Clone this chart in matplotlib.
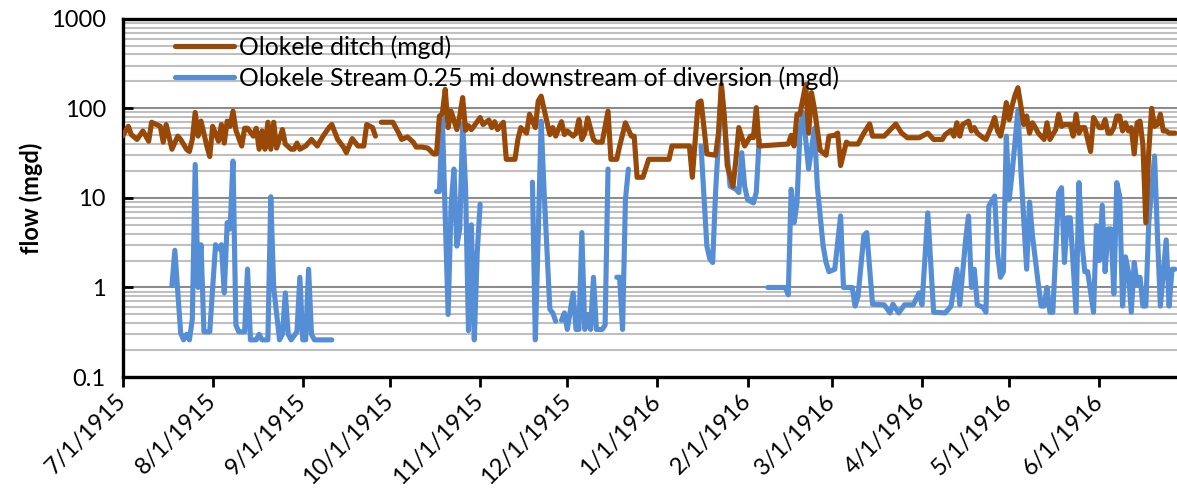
import datetime as dt
import numpy as np
import matplotlib
matplotlib.use("Agg")
import matplotlib.pyplot as plt
import matplotlib.dates as mdates
from matplotlib.ticker import LogLocator, NullFormatter, FixedLocator, FixedFormatter

nan = np.nan
start = dt.date(1915, 7, 1)

# Olokele ditch, days after 7/1/1915 and daily flow in mgd (nan = missing record)
ditch_day = [0, 2, 3, 5, 7, 9, 10, 13, 14, 15, 17, 19, 20, 22, 23, 24, 25, 26, 27, 29,
             30, 31, 33, 34, 35, 36, 37, 38, 39, 41, 42, 43, 45, 46, 47, 48, 49, 50, 51, 52,
             53, 55, 56, 58, 59, 60, 61, 63, 65, 67, 69, 71, 72, 74, 76, 77, 79, 81, 83, 84,
             86, 87, 88,
             89, 93, 95, 96, 98, 100, 101, 103, 105, 107, 108, 109, 110, 111, 112, 113, 115, 116, 117, 118,
             119, 120, 121, 123, 124, 126, 127, 128, 129, 131, 132, 135, 136, 137, 139, 140, 142, 143, 144, 145,
             147, 148, 149, 151, 152, 153, 155, 156, 157, 158, 159, 160, 162, 163, 165, 167, 168, 170, 171, 173,
             175, 176, 177, 179, 181, 188, 189, 195, 196, 198, 199, 201, 204, 205, 206, 207, 208, 210, 211, 212,
             214, 216, 217, 218, 219, 229, 230, 231, 232, 233, 235, 236, 237, 238, 240, 242, 243, 245, 246, 247,
             249, 250, 253, 255, 257, 258, 262, 266, 268, 270, 272, 274, 275, 277, 279, 282, 283, 285, 286, 287,
             288, 289, 291, 292, 293, 294, 296, 297, 299, 300, 301, 302, 303, 304, 305, 306, 307, 308, 309, 310,
             311, 312, 313, 314, 315, 317, 318, 319, 321, 322, 323, 324, 326, 327, 328, 329, 330, 331, 333, 334,
             335, 336, 337, 338, 339, 340, 341, 342, 343, 344, 345, 346, 347, 348, 349, 350, 351, 352, 353, 354,
             355, 356, 357, 358, 359, 360, 362]
ditch_mgd = [49, 63, 51, 45, 56, 43, 70, 63, 42, 66, 35, 49, 45, 35, 33, 45, 90, 49, 72, 38,
             29, 63, 43, 66, 41, 72, 63, 93, 57, 38, 60, 60, 49, 60, 35, 56, 35, 70, 35, 70,
             36, 58, 40, 35, 35, 41, 35, 38, 45, 38, 49, 61, 66, 45, 37, 32, 46, 38, 38, 66,
             61, 49, nan,
             70, 70, 53, 45, 48, 42, 37, 37, 36, 31, 31, 82, 87, 163, 61, 93, 58, 82, 132, 57,
             64, 58, 64, 79, 66, 74, 61, 71, 58, 70, 27, 27, 45, 61, 53, 86, 61, 121, 137, 98,
             51, 61, 49, 71, 51, 56, 49, 53, 75, 45, 53, 78, 45, 42, 42, 93, 27, 27, 38, 69,
             49, 49, 17, 17, 27, 27, 38, 38, 17, 116, 121, 31, 30, 53, 185, 82, 23, 13.5, 27, 61,
             38, 49, 47, 102, 38, 40, 50, 38, 86, 86, 185, 53, 150, 99, 34, 30, 49, 50, 53, 23,
             42, 40, 40, 53, 67, 49, 49, 67, 53, 47, 47, 47, 49, 53, 45, 45, 51, 57, 49, 69,
             49, 66, 72, 56, 61, 53, 47, 45, 64, 79, 56, 49, 69, 116, 75, 107, 140, 170, 107, 66,
             82, 53, 69, 61, 53, 45, 69, 45, 58, 86, 63, 66, 66, 49, 86, 53, 61, 61, 33, 79,
             69, 61, 61, 75, 53, 53, 61, 82, 82, 56, 69, 56, 61, 31, 69, 72, 39, 5.3, 33, 100,
             63, 66, 86, 56, 56, 53, 53]

# Olokele Stream 0.25 mi downstream of diversion
stream_day = [17, 18, 20, 21, 22, 23, 24, 25, 26, 27, 28, 30, 32, 33, 34, 35, 36, 37, 38, 39,
              40, 42, 43, 44, 46, 47, 48, 50, 51, 52, 54, 55, 56, 57, 58, 60, 61, 62, 63, 64,
              65, 66, 72, 73,
              108, 109, 110, 112, 113, 114, 115, 116, 117, 118, 119, 120, 121, 122, 123, 124,
              141, 142, 143, 144, 145, 147, 148, 149, 150,
              151, 152, 153, 155, 156, 157, 158, 159, 160, 161, 162, 163, 165, 166, 167, 168,
              170, 171, 172, 173, 174, 175,
              199, 201, 202, 203, 204, 206, 208, 209, 211, 212, 213, 214, 215, 217, 218, 219, 220,
              222, 228, 229, 230, 231, 232, 233, 234, 235, 236, 238, 239, 241, 242, 243, 245, 247, 248, 251,
              252, 253, 255, 256, 258, 262, 264, 265, 267, 269, 272, 274, 275, 277, 279, 283, 285, 287, 288, 290,
              291, 292, 293, 294, 296, 297, 298, 300, 301, 302, 303, 304, 305, 306, 308, 309, 311, 312, 313, 315,
              316, 317, 318, 319, 320, 322, 323, 324, 325, 326, 328, 329, 330, 331, 332, 334, 335, 336, 337, 338,
              339, 340, 341, 342, 343, 344, 345, 346, 347, 348, 349, 350, 351, 352, 353, 355, 356, 357, 359, 360,
              361, 362]
stream_mgd = [1.05, 2.6, 0.31, 0.26, 0.3, 0.26, 0.44, 23.6, 1.0, 3.0, 0.32, 0.32, 3.0, 2.7, 3.0, 0.87, 5.3, 4.5, 25.8, 0.38,
              0.32, 0.32, 1.6, 0.26, 0.26, 0.3, 0.26, 0.26, 10.3, 1.0, 0.26, 0.3, 0.87, 0.3, 0.26, 0.32, 1.3, 0.26, 0.26, 1.6,
              0.3, 0.26, 0.26, nan,
              11.8, 11.8, 80, 0.5, 8, 21, 2.9, 4.5, 68, 13, 0.33, 5, 0.26, 2.4, 8.5, nan,
              15, 0.26, 4, 72, 12, 0.57, 0.52, 0.42, nan,
              0.43, 0.52, 0.34, 0.87, 0.34, 0.34, 4.1, 0.34, 0.5, 0.34, 1.3, 0.34, 0.34, 0.38, 21, nan,
              1.3, 1.3, 0.34, 9.6, 21, nan,
              38, 2.9, 2.1, 1.9, 11.5, 170, 32, 13.5, 12.5, 11.5, 32, 13.5, 9.6, 8.8, 11.5, 45, nan,
              1.0, 1.0, 0.83, 12.5, 5.3, 8.8, 53, 90, 45, 21, 60, 13.5, 2.9, 1.9, 1.5, 1.6, 6.3, 1.0, 1.0,
              0.62, 0.8, 3.8, 4.1, 0.65, 0.64, 0.52, 0.65, 0.52, 0.64, 0.64, 0.87, 0.64, 6.8, 0.53, 0.52, 0.62, 1.6, 0.64, 3.4,
              6.3, 1.0, 1.6, 0.64, 0.6, 0.53, 8.1, 10.5, 2.4, 1.3, 1.5, 49, 9.6, 19, 95, 21, 1.6, 9, 3.8, 1.1,
              0.62, 0.62, 1.0, 0.53, 0.53, 11.5, 13, 1.9, 6, 6, 0.53, 14.8, 3.2, 1.5, 1.5, 0.53, 4.9, 2.0, 8.3, 1.5,
              4.5, 4.5, 0.85, 14.8, 10.5, 0.62, 2.2, 1.5, 0.53, 1.9, 1.1, 1.3, 0.62, 0.62, 5.3, 29.4, 3.8, 0.62, 3.4, 0.62,
              1.6, 1.6]

month_ticks = [dt.date(1915, m, 1) for m in range(7, 13)] + [dt.date(1916, m, 1) for m in range(1, 7)]
month_labels = ["7/1/1915", "8/1/1915", "9/1/1915", "10/1/1915", "11/1/1915", "12/1/1915",
                "1/1/1916", "2/1/1916", "3/1/1916", "4/1/1916", "5/1/1916", "6/1/1916"]
y_labels = ["0.1", "1", "10", "100", "1000"]

ditch_c = "#984807"
stream_c = "#558ED5"
fs = 17

plt.rcParams["font.family"] = ["Lato", "DejaVu Sans"]

fig = plt.figure(figsize=(11.77, 4.92), dpi=100)
ax = fig.add_axes([0.1041, 0.2337, 0.904, 0.728])

ditch_dates = [start + dt.timedelta(days=d) for d in ditch_day]
stream_dates = [start + dt.timedelta(days=d) for d in stream_day]

ax.plot(ditch_dates, ditch_mgd, color=ditch_c, lw=3.7, solid_joinstyle="round",
        solid_capstyle="round", label="Olokele ditch (mgd)", zorder=3)
ax.plot(stream_dates, stream_mgd, color=stream_c, lw=3.7, solid_joinstyle="round",
        solid_capstyle="round", label="Olokele Stream 0.25 mi downstream of diversion (mgd)", zorder=2)

ax.set_yscale("log")
ax.set_ylim(0.1, 1000)
ax.set_xlim(start, dt.date(1916, 7, 1))

ax.yaxis.set_major_locator(FixedLocator([0.1, 1, 10, 100, 1000]))
ax.yaxis.set_major_formatter(FixedFormatter(y_labels))
ax.yaxis.set_minor_locator(LogLocator(base=10, subs=np.arange(2, 10)))
ax.yaxis.set_minor_formatter(NullFormatter())
ax.grid(True, which="major", axis="y", color="#8c8c8c", lw=1.5, zorder=0)
ax.grid(True, which="minor", axis="y", color="#bfbfbf", lw=1.5, zorder=0)
ax.set_axisbelow(True)

ax.xaxis.set_major_locator(FixedLocator(mdates.date2num(month_ticks)))
ax.xaxis.set_major_formatter(FixedFormatter(month_labels))
ax.tick_params(axis="x", which="major", direction="out", length=7, width=2, labelsize=fs, pad=8)
ax.tick_params(axis="y", which="major", direction="in", length=7, width=2, labelsize=fs, pad=12)
ax.tick_params(axis="y", which="minor", length=0)
for lbl in ax.get_xticklabels():
    lbl.set_rotation(45)
    lbl.set_ha("right")
    lbl.set_va("center")
    lbl.set_rotation_mode("anchor")

for side in ("left", "top", "bottom"):
    ax.spines[side].set_linewidth(2.4)
    ax.spines[side].set_color("black")
ax.spines["right"].set_visible(False)

ax.set_ylabel("flow (mgd)", fontsize=fs, fontweight="bold", labelpad=6)

ax.legend(loc="upper left", bbox_to_anchor=(0.049, 0.955), frameon=False, fontsize=17.8,
          handlelength=2.4, handletextpad=0.2, borderpad=0, labelspacing=0.3, borderaxespad=0)

fig.savefig("out.png", dpi=100)
